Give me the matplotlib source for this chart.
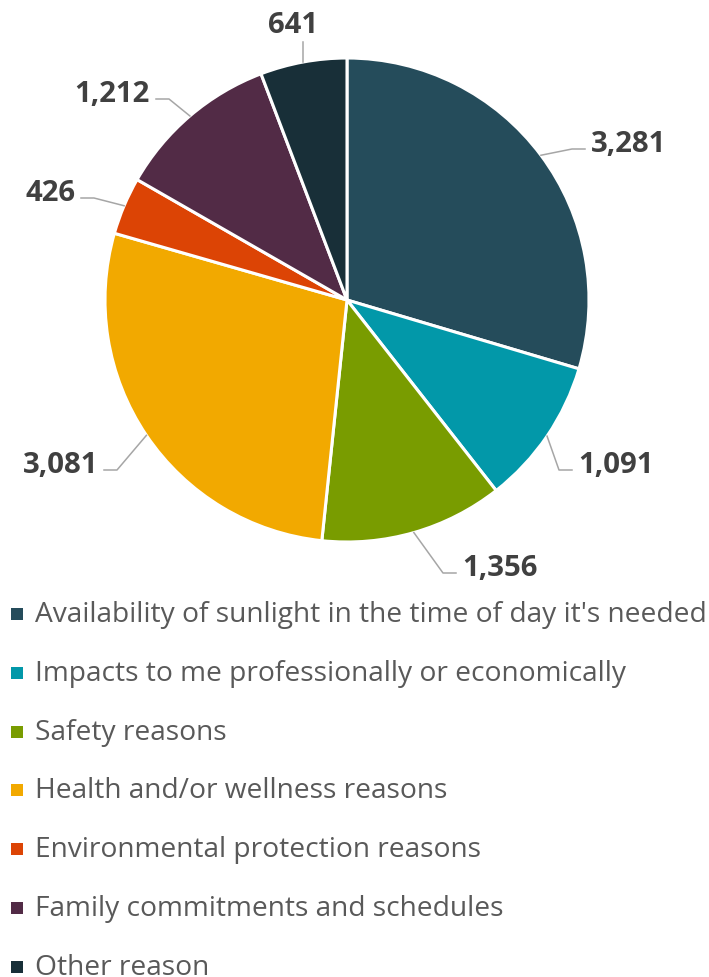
import matplotlib.pyplot as plt
from matplotlib.patches import Rectangle
import numpy as np

W, H = 709, 977

categories = [
    "Availability of sunlight in the time of day it's needed",
    "Impacts to me professionally or economically",
    "Safety reasons",
    "Health and/or wellness reasons",
    "Environmental protection reasons",
    "Family commitments and schedules",
    "Other reason",
]
values = [3281, 1091, 1356, 3081, 426, 1212, 641]
colors = ['#254C5B', '#0298A9', '#799C00', '#F2A900', '#DC4405', '#522B46', '#182F38']

# label anchor positions (pixels, y down) and alignment
label_pos = [(591, 141, 'left'), (578, 462, 'left'), (462, 565, 'left'),
             (98, 462, 'right'), (75, 190, 'right'), (150, 91, 'right'),
             (293, 22, 'center')]

cx, cy, R = 347, 300, 242
FONT = 'Open Sans'

fig = plt.figure(figsize=(W / 100, H / 100), dpi=100)
ax = fig.add_axes([0, 0, 1, 1])
renderer = fig.canvas.get_renderer()


def fit(txt, width_px):
    # scale font so the text spans the wanted width
    fs = txt.get_fontsize()
    w = txt.get_window_extent(renderer).width
    txt.set_fontsize(fs * width_px / w)


wedges, _ = ax.pie(values, colors=colors, startangle=90, counterclock=False,
                   radius=R, center=(cx, H - cy),
                   wedgeprops=dict(edgecolor='white', linewidth=2.2))

ax.set_xlim(0, W)
ax.set_ylim(0, H)
ax.set_aspect('equal')
ax.axis('off')

lead = '#A6A6A6'
lab_texts = []
for w, v, (tx, ty, ha) in zip(wedges, values, label_pos):
    mid = np.radians((w.theta1 + w.theta2) / 2)
    ex, ey = cx + R * np.cos(mid), (H - cy) + R * np.sin(mid)
    ty_d = H - ty
    t = ax.text(tx, ty_d, f"{v:,}", ha=ha, va='center_baseline', fontsize=17,
                fontweight='bold', color='#404040', family=FONT)
    lab_texts.append(t)
    if ha == 'center':
        ax.plot([ex, ex], [ey, ty_d - 20], color=lead, lw=1.1)
        continue
    sgn = 1 if ha == 'left' else -1
    line_y = ty_d - 8
    end_x = tx - sgn * 6
    elbow_x = end_x - sgn * 13
    ax.plot([ex, elbow_x, end_x], [ey, line_y, line_y], color=lead, lw=1.1)

fit(lab_texts[3], 76)
for t in lab_texts:
    t.set_fontsize(lab_texts[3].get_fontsize())

# legend
row0, step = 614, 58.8
leg_texts = []
for i, (lab, c) in enumerate(zip(categories, colors)):
    yc = H - (row0 + i * step)
    ax.add_patch(Rectangle((11, yc - 6), 12, 12, color=c, lw=0))
    leg_texts.append(ax.text(35, yc - 8, lab, ha='left', va='baseline', fontsize=18,
                             color='#595959', family=FONT))

fit(leg_texts[0], 671)
for t in leg_texts:
    t.set_fontsize(leg_texts[0].get_fontsize())

fig.savefig('out.png', dpi=100)
